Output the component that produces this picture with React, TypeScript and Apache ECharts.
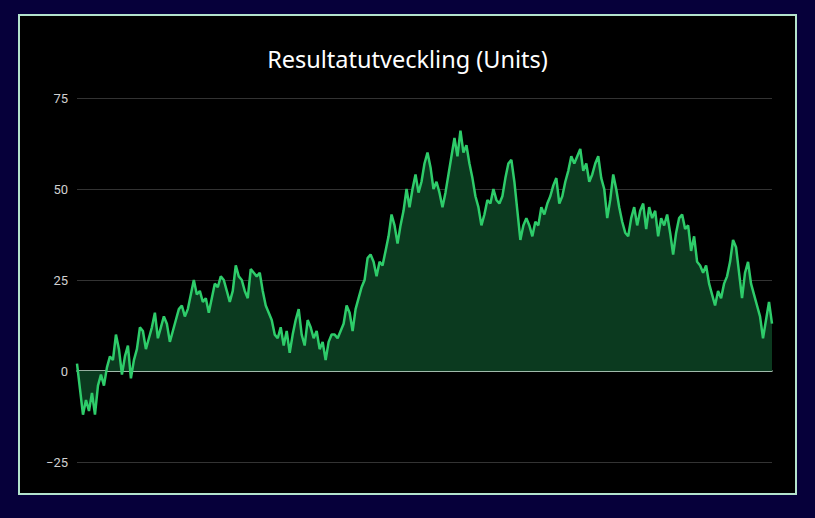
import { useEffect, useRef } from 'react'
import * as echarts from 'echarts'

// cumulative result per trade
const results = [
  2, -5, -12, -8, -11, -6, -12, -4, -1, -4,
  1, 4, 3, 10, 6, -1, 4, 7, -2, 3,
  6, 12, 11, 6, 9, 12, 16, 9, 12, 15,
  13, 8, 11, 14, 17, 18, 15, 17, 21, 25,
  21, 22, 19, 20, 16, 20, 24, 23, 26, 25,
  22, 19, 22, 29, 26, 25, 22, 20, 28, 27,
  26, 27, 22, 18, 16, 14, 10, 9, 12, 7,
  11, 5, 10, 14, 17, 10, 7, 14, 12, 9,
  11, 6, 8, 3, 8, 10, 10, 9, 11, 13,
  18, 16, 11, 17, 20, 23, 25, 31, 32, 30,
  26, 30, 29, 33, 37, 43, 40, 35, 40, 44,
  50, 45, 50, 54, 49, 52, 57, 60, 56, 50,
  52, 49, 45, 49, 54, 59, 64, 59, 66, 60,
  62, 57, 53, 48, 45, 40, 43, 47, 46, 50,
  47, 46, 48, 53, 57, 58, 52, 44, 36, 40,
  42, 40, 37, 41, 40, 45, 43, 46, 48, 51,
  53, 46, 48, 52, 55, 59, 57, 59, 61, 55,
  57, 52, 54, 57, 59, 53, 50, 42, 47, 54,
  50, 45, 41, 38, 37, 42, 45, 40, 44, 46,
  39, 45, 42, 44, 37, 42, 40, 43, 38, 32,
  38, 42, 43, 39, 40, 33, 37, 30, 29, 27,
  29, 24, 21, 18, 22, 20, 24, 26, 30, 36,
  34, 27, 20, 27, 30, 24, 21, 18, 15, 9,
  14, 19, 13,
]

const trades = results.map((_, i) => String(i + 1))
const yTicks = { min: -25, max: 75, interval: 25 }

function ResultChart() {
  const chartRef = useRef<HTMLDivElement>(null)

  useEffect(() => {
    if (!chartRef.current) return
    const chart = echarts.init(chartRef.current, undefined, { renderer: 'svg' })

    chart.setOption({
      animation: false,
      backgroundColor: '#000',
      title: {
        text: 'Resultatutveckling (Units)',
        left: 'center',
        top: 26,
        textStyle: {
          color: '#fff',
          fontSize: 23.5,
          fontWeight: 'normal',
          fontFamily: 'Noto Sans',
        },
      },
      grid: { left: 57, right: 23, top: 82, bottom: 31 },
      xAxis: {
        type: 'category',
        data: trades,
        boundaryGap: false,
        axisLine: { onZero: true, lineStyle: { color: '#c6e8d4', width: 1.5 } },
        axisTick: { show: false },
        axisLabel: { show: false },
        splitLine: { show: false },
      },
      yAxis: {
        type: 'value',
        ...yTicks,
        axisLine: { show: false },
        axisTick: { show: false },
        axisLabel: {
          color: '#d0d0d0',
          fontSize: 13,
          fontFamily: 'Roboto',
          margin: 9,
          formatter: (v: number) => String(v).replace('-', '\u2212'),
        },
        splitLine: { lineStyle: { color: '#333', width: 1 } },
      },
      series: [
        {
          type: 'line',
          data: results,
          symbol: 'none',
          lineStyle: { color: '#2ecc6a', width: 2.5 },
          areaStyle: { color: '#0b3a1f', opacity: 1, origin: 0 },
          z: 3,
        },
      ],
    })

    return () => chart.dispose()
  }, [])

  return (
    <div
      style={{
        position: 'fixed',
        left: 0,
        top: 0,
        width: 815,
        height: 518,
        background: '#06003a',
      }}
    >
      <div
        style={{
          position: 'absolute',
          left: 18,
          top: 14,
          width: 779,
          height: 481,
          boxSizing: 'border-box',
          border: '2px solid #b3e3cc',
          background: '#000',
        }}
      >
        <div ref={chartRef} style={{ width: '100%', height: '100%' }} />
      </div>
    </div>
  )
}

export default function App() {
  return <ResultChart />
}
